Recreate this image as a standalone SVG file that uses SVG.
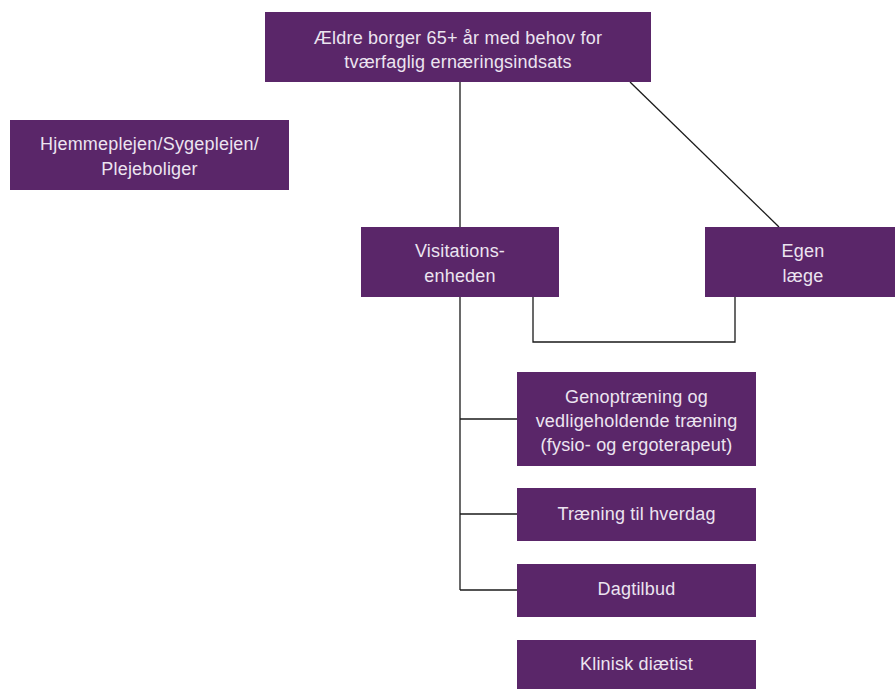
<svg xmlns="http://www.w3.org/2000/svg" width="895" height="689" viewBox="0 0 895 689">
<style>
.box{fill:#5a2669}
.t{font-family:"Liberation Sans",Arial,sans-serif;font-size:18px;letter-spacing:0.2px;fill:#ece4f0;text-anchor:middle}
.c{fill:none;stroke:#1a1a1a;stroke-width:1.3}
</style>
<rect width="895" height="689" fill="#ffffff"/>
<g id="connectors">
<line class="c" x1="460" y1="81" x2="460" y2="227"/>
<line class="c" x1="630" y1="82" x2="779" y2="227"/>
<polyline class="c" points="533,297 533,342 735,342 735,297"/>
<line class="c" x1="460" y1="297" x2="460" y2="590"/>
<line class="c" x1="460" y1="419" x2="517" y2="419"/>
<line class="c" x1="460" y1="514" x2="517" y2="514"/>
<line class="c" x1="460" y1="590" x2="517" y2="590"/>
</g>
<g id="top">
<rect class="box" x="265" y="12" width="386" height="70"/>
<text class="t" x="458" y="44">Ældre borger 65+ år med behov for</text>
<text class="t" x="458" y="68">tværfaglig ernæringsindsats</text>
</g>
<g id="hjemmepleje">
<rect class="box" x="10" y="120" width="279" height="70"/>
<text class="t" x="149.5" y="150">Hjemmeplejen/Sygeplejen/</text>
<text class="t" x="149.5" y="175">Plejeboliger</text>
</g>
<g id="visitation">
<rect class="box" x="361" y="227" width="198" height="70"/>
<text class="t" x="460" y="257">Visitations-</text>
<text class="t" x="460" y="282">enheden</text>
</g>
<g id="egen">
<rect class="box" x="705" y="227" width="190" height="70"/>
<text class="t" x="803" y="257">Egen</text>
<text class="t" x="803" y="282">læge</text>
</g>
<g id="genoptraening">
<rect class="box" x="517" y="372" width="239" height="94"/>
<text class="t" x="636.5" y="403">Genoptræning og</text>
<text class="t" x="636.5" y="427">vedligeholdende træning</text>
<text class="t" x="636.5" y="451">(fysio- og ergoterapeut)</text>
</g>
<g id="traening">
<rect class="box" x="517" y="488" width="239" height="53"/>
<text class="t" x="636.5" y="520">Træning til hverdag</text>
</g>
<g id="dagtilbud">
<rect class="box" x="517" y="564" width="239" height="53"/>
<text class="t" x="636.5" y="595">Dagtilbud</text>
</g>
<g id="klinisk">
<rect class="box" x="517" y="640" width="239" height="49"/>
<text class="t" x="636.5" y="670">Klinisk diætist</text>
</g>
</svg>
